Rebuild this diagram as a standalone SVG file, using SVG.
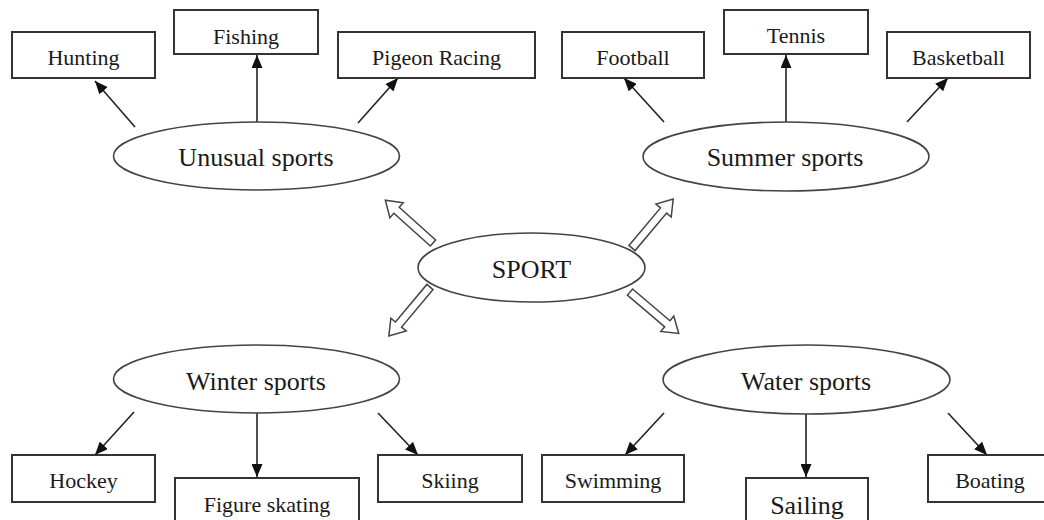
<svg xmlns="http://www.w3.org/2000/svg" width="1044" height="520" viewBox="0 0 1044 520" font-family="'Liberation Serif', 'DejaVu Serif', serif">
<style>
.box{fill:#fff;stroke:#333;stroke-width:2}
.ell{fill:#fff;stroke:#444;stroke-width:1.6}
text{font-family:'Liberation Serif', 'DejaVu Serif', serif;font-size:22px;fill:#1a1a1a;text-anchor:middle}
text.big{font-size:26px}
.con{stroke:#222;stroke-width:1.6;fill:none;marker-end:url(#ah)}
.blk{fill:#fff;stroke:#444;stroke-width:1.5;stroke-linejoin:miter}
</style>
<defs>
<marker id="ah" markerUnits="userSpaceOnUse" markerWidth="13" markerHeight="11" refX="13" refY="5.5" orient="auto">
<path d="M0,0 L13,5.5 L0,11 Z" fill="#111"/>
</marker>
<path id="barrow" d="M0,-4 H49 V-10 L64,0 L49,10 V4 H0 Z"/>
</defs>
<rect width="1044" height="520" fill="#fff"/>
<g id="connectors">
<line class="con" x1="135" y1="127" x2="95" y2="81"/>
<line class="con" x1="257" y1="122" x2="257" y2="55"/>
<line class="con" x1="358" y1="123" x2="398" y2="78"/>
<line class="con" x1="664" y1="122" x2="624" y2="78"/>
<line class="con" x1="786" y1="122" x2="786" y2="55"/>
<line class="con" x1="907" y1="122" x2="948" y2="78"/>
<line class="con" x1="134" y1="412" x2="95" y2="455"/>
<line class="con" x1="257" y1="413" x2="257" y2="477"/>
<line class="con" x1="378" y1="413" x2="418" y2="455"/>
<line class="con" x1="664" y1="413" x2="625" y2="455"/>
<line class="con" x1="806" y1="414" x2="806" y2="477"/>
<line class="con" x1="948" y1="413" x2="987" y2="455"/>
<use href="#barrow" class="blk" transform="translate(433,243) rotate(221.9)"/>
<use href="#barrow" class="blk" transform="translate(632,248) rotate(-49.9)"/>
<use href="#barrow" class="blk" transform="translate(430,287) rotate(130)"/>
<use href="#barrow" class="blk" transform="translate(630,292) rotate(40.4)"/>
</g>
<g id="sport"><ellipse class="ell" cx="531.5" cy="267.5" rx="113.5" ry="34.5"/><text class="big" x="531.5" y="278">SPORT</text></g>
<g id="unusual"><ellipse class="ell" cx="256.5" cy="156" rx="143" ry="34"/><text class="big" x="256" y="166">Unusual sports</text></g>
<g id="summer"><ellipse class="ell" cx="786" cy="156.5" rx="143" ry="34.5"/><text class="big" x="785" y="166">Summer sports</text></g>
<g id="winter"><ellipse class="ell" cx="256.5" cy="379" rx="143" ry="34"/><text class="big" x="256" y="390">Winter sports</text></g>
<g id="water"><ellipse class="ell" cx="806.5" cy="379.5" rx="143.5" ry="34.5"/><text class="big" x="806" y="390">Water sports</text></g>
<g id="hunting"><rect class="box" x="12" y="32" width="143" height="46"/><text x="83.5" y="65">Hunting</text></g>
<g id="fishing"><rect class="box" x="174" y="10" width="144" height="44"/><text x="246" y="44">Fishing</text></g>
<g id="pigeon"><rect class="box" x="338" y="32" width="197" height="46"/><text x="436.5" y="65">Pigeon Racing</text></g>
<g id="football"><rect class="box" x="562" y="32" width="142" height="46"/><text x="633" y="65">Football</text></g>
<g id="tennis"><rect class="box" x="724" y="10" width="144" height="44"/><text x="796" y="43">Tennis</text></g>
<g id="basketball"><rect class="box" x="887" y="32" width="143" height="46"/><text x="958.5" y="65">Basketball</text></g>
<g id="hockey"><rect class="box" x="12" y="455" width="143" height="47"/><text x="83.5" y="488">Hockey</text></g>
<g id="figure"><rect class="box" x="175" y="478" width="184" height="60"/><text x="267" y="512">Figure skating</text></g>
<g id="skiing"><rect class="box" x="378" y="455" width="144" height="47"/><text x="450" y="488">Skiing</text></g>
<g id="swimming"><rect class="box" x="542" y="455" width="142" height="47"/><text x="613" y="488">Swimming</text></g>
<g id="sailing"><rect class="box" x="746" y="478" width="122" height="60"/><text class="big" x="807" y="514">Sailing</text></g>
<g id="boating"><rect class="box" x="928" y="455" width="130" height="47"/><text x="990" y="488">Boating</text></g>
</svg>
